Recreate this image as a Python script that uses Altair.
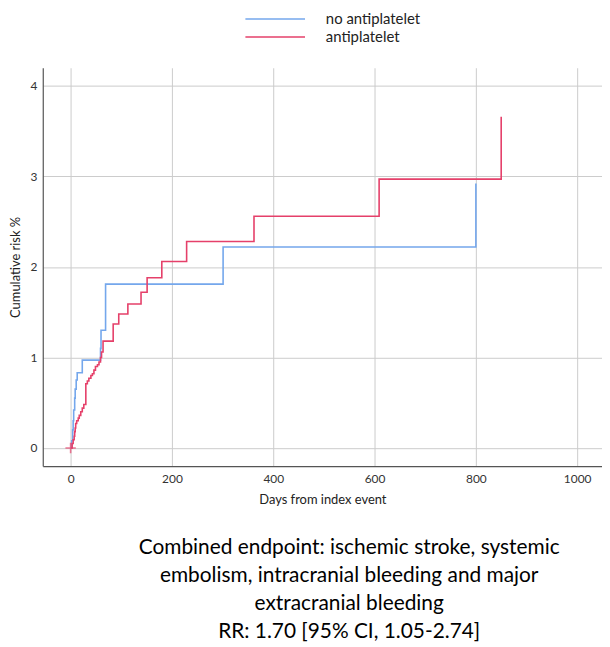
import altair as alt
import pandas as pd

# no antiplatelet (blue) : day of event, cumulative risk %
blue_days = [0, 2, 4, 5, 6, 8, 9, 11, 13, 23, 59, 60, 69, 301, 800]
blue_risk = [0, 0.08, 0.2, 0.3, 0.42, 0.55, 0.65, 0.75, 0.83, 0.97, 1.10, 1.30, 1.81, 2.22, 2.92]

# antiplatelet (red)
red_days = [0, 3, 5, 7, 8, 9, 10, 12, 15, 17, 20, 23, 26, 30, 33, 36, 40, 43, 46, 49, 53, 56,
            59, 61, 64, 84, 95, 113, 139, 151, 180, 229, 362, 609, 850]
red_risk = [0, 0.05, 0.09, 0.13, 0.18, 0.22, 0.27, 0.30, 0.33, 0.36, 0.40, 0.44, 0.48, 0.71,
            0.74, 0.77, 0.80, 0.82, 0.86, 0.90, 0.92, 0.95, 1.00, 1.06, 1.18, 1.37, 1.48, 1.59,
            1.72, 1.88, 2.06, 2.28, 2.56, 2.97, 3.66]

groups = ["no antiplatelet", "antiplatelet"]
colors = ["#74a7ec", "#e5406a"]

x_ticks = [0, 200, 400, 600, 800, 1000]
y_ticks = [0, 1, 2, 3, 4]

caption = [
    "Combined endpoint: ischemic stroke, systemic",
    "embolism, intracranial bleeding and major",
    "extracranial bleeding",
    "RR: 1.70 [95% CI, 1.05-2.74]",
]

df = pd.concat([
    pd.DataFrame({"day": blue_days, "risk": blue_risk, "group": groups[0], "order": range(len(blue_days))}),
    pd.DataFrame({"day": red_days, "risk": red_risk, "group": groups[1], "order": range(len(red_days))}),
])

censor = pd.DataFrame({"day": [0], "risk": [0], "group": [groups[1]]})

xscale = alt.Scale(domain=[-55, 1049], nice=False, zero=False)
yscale = alt.Scale(domain=[-0.2, 4.2], nice=False, zero=False)
cscale = alt.Scale(domain=groups, range=colors)

lines = alt.Chart(df).mark_line(interpolate="step-after", strokeWidth=1.6).encode(
    x=alt.X("day:Q", scale=xscale, title="Days from index event",
            axis=alt.Axis(values=x_ticks, format="d", titlePadding=9, labelPadding=8)),
    y=alt.Y("risk:Q", scale=yscale, title="Cumulative risk %",
            axis=alt.Axis(values=y_ticks, format="d", titlePadding=7, labelPadding=6)),
    color=alt.Color("group:N", scale=cscale, sort=groups, title=None,
                    legend=alt.Legend(orient="none", legendX=225, legendY=-58,
                                      symbolType="M-3.75,0H3.75", symbolSize=256,
                                      symbolStrokeWidth=1.6, labelFontSize=15,
                                      labelFont="Lato", labelColor="#222",
                                      labelOffset=42, rowPadding=1)),
    order="order:Q",
)

plus = alt.Chart(censor).mark_point(
    shape="M-1,0H1M0,-1V1", filled=False, size=110, strokeWidth=1.6
).encode(
    x=alt.X("day:Q", scale=xscale),
    y=alt.Y("risk:Q", scale=yscale),
    color=alt.Color("group:N", scale=cscale, legend=None),
)

chart = alt.layer(lines, plus).properties(
    width=563,
    height=401,
    autosize=alt.AutoSizeParams(type="none"),
    padding={"left": 35, "top": 58, "right": 0, "bottom": 178},
    title=alt.TitleParams(text=caption, orient="bottom", anchor="middle", fontSize=21,
                          font="Lato", fontWeight="normal", lineHeight=28, offset=31,
                          dx=27, color="#000"),
).configure_view(stroke=None).configure_axis(
    grid=True, gridColor="#cccccc", gridWidth=1, ticks=False,
    domainColor="#555555", domainWidth=1.2,
    labelFont="Lato", labelFontSize=12, labelColor="#333",
    titleFont="Lato", titleFontSize=13, titleFontWeight="normal", titleColor="#222",
)

chart.save("out.html", embed_options={"renderer": "svg", "actions": False})
